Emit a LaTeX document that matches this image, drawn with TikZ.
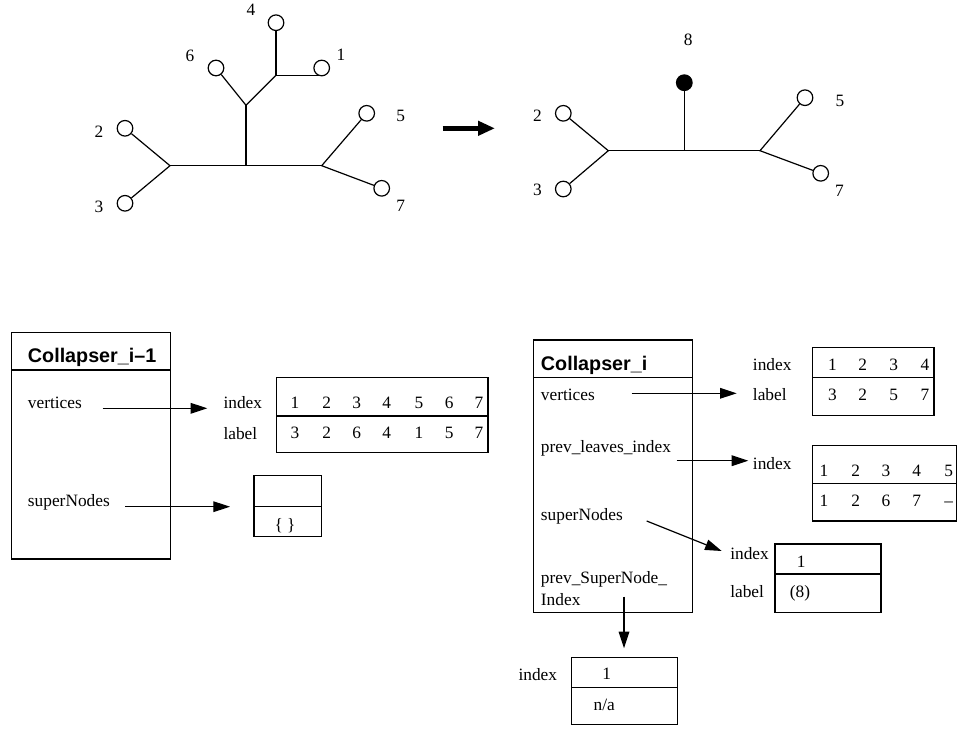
\documentclass[tikz,border=0pt]{standalone}
\usepackage{fontspec}
\setmainfont{Liberation Serif}
\newfontfamily\titlefont{Liberation Sans}
\usetikzlibrary{arrows.meta}
\begin{document}
\begin{tikzpicture}[x=0.75pt,y=-0.75pt,
  every node/.style={inner sep=0pt},
  txt/.style={anchor=base west, font=\fontsize{13}{15}\selectfont},
  num/.style={anchor=base, font=\fontsize{13}{15}\selectfont},
  tlab/.style={anchor=center, font=\fontsize{13}{15}\selectfont},
  ttl/.style={anchor=base west, font=\titlefont\bfseries\fontsize{14.8}{17}\selectfont},
  leaf/.style={circle, draw, minimum size=11.7pt, line width=0.9pt},
  fleaf/.style={circle, draw, fill=black, minimum size=11.7pt, line width=0.9pt},
  edge/.style={line width=0.9pt},
  box/.style={line width=0.9pt},
  arr/.style={line width=0.9pt, -{Triangle[length=12.5pt,width=8pt]}},
  bigarr/.style={line width=3.5pt, -{Triangle[length=12.75pt,width=10.5pt]}}
]
\useasboundingbox (0,0) rectangle (958,729);

% ---------- left tree ----------
\node[leaf] (a4) at (276,22.7) {};
\node[leaf] (a1) at (321.7,68) {};
\node[leaf] (a6) at (216,68) {};
\node[leaf] (a2) at (125,128.3) {};
\node[leaf] (a3) at (125,203.3) {};
\node[leaf] (a5) at (366.7,113.3) {};
\node[leaf] (a7) at (381.7,188.3) {};
\coordinate (aA) at (276,75.3);
\coordinate (aB) at (246,105.3);
\coordinate (aC) at (246,165.7);
\coordinate (aL) at (170,165.7);
\coordinate (aR) at (321.7,165.7);
\draw[edge] (a4) -- (aA) -- (aA -| a1);
\draw[edge] (a6) -- (aB) -- (aA);
\draw[edge] (aB) -- (aC);
\draw[edge] (aL) -- (aR);
\draw[edge] (a2) -- (aL) -- (a3);
\draw[edge] (a5) -- (aR) -- (a7);
\node[tlab] (la4) at (251,10) {4};
\node[tlab] (la1) at (341,54.7) {1};
\node[tlab] (la6) at (190,55.5) {6};
\node[tlab] (la2) at (99,131.3) {2};
\node[tlab] (la3) at (99,206.7) {3};
\node[tlab] (la5) at (400.8,115.8) {5};
\node[tlab] (la7) at (400.8,206.2) {7};

% ---------- big arrow ----------
\coordinate (bigL) at (442.7,128.3);
\coordinate (bigR) at (495,128.3);
\draw[bigarr] (bigL) -- (bigR);

% ---------- right tree ----------
\node[fleaf] (b8) at (684.3,82.7) {};
\node[leaf] (b2) at (563.3,113.3) {};
\node[leaf] (b3) at (563.3,189) {};
\node[leaf] (b5) at (805,97.7) {};
\node[leaf] (b7) at (820.7,173.3) {};
\coordinate (bC) at (684.3,150.7);
\coordinate (bL) at (608.3,150.7);
\coordinate (bR) at (760,150.7);
\draw[edge] (b8) -- (bC);
\draw[edge] (bL) -- (bR);
\draw[edge] (b2) -- (bL) -- (b3);
\draw[edge] (b5) -- (bR) -- (b7);
\node[tlab] (lb8) at (688.3,39.5) {8};
\node[tlab] (lb2) at (537.5,115.8) {2};
\node[tlab] (lb3) at (537.5,190.2) {3};
\node[tlab] (lb5) at (840,101) {5};
\node[tlab] (lb7) at (839.5,190.5) {7};

% ---------- Collapser_i-1 ----------
\draw[box] (11.7,332.7) rectangle (170.7,559);
\draw[box] (11.7,370) -- (170.7,370);
\node[ttl] (t1) at (27.7,362.7) {Collapser\_i–1};
\node[txt] (v1) at (27.7,408.3) {vertices};
\node[txt] (s1) at (27.7,506) {superNodes};
\coordinate (v1a) at (102.7,408.3);
\coordinate (v1b) at (207.3,408.3);
\draw[arr] (v1a) -- (v1b);
\coordinate (s1a) at (125,506.7);
\coordinate (s1b) at (230,506.7);
\draw[arr] (s1a) -- (s1b);
\node[txt] (i1) at (223.3,408.3) {index};
\node[txt] (l1) at (223.3,439) {label};
\draw[box] (276.7,377.3) rectangle (488,452.3);
\draw[box] (276.7,416) -- (488,416);
\foreach \x/\a/\b [count=\k] in {295/1/3,326.7/2/2,356.7/3/6,386.7/4/4,419/5/1,449.3/6/5,479/7/7}{
  \node[num] (r1i\k) at (\x,408.3) {\a};
  \node[num] (r1l\k) at (\x,438.6) {\b};
}
\draw[box] (254,475.7) rectangle (321.7,536.7);
\draw[box] (254,506.7) -- (321.7,506.7);
\node[num] (emp) at (285,530.3) {\{ \}};

% ---------- Collapser_i ----------
\draw[box] (533.3,340) rectangle (692.3,612.3);
\draw[box] (533.3,377.3) -- (692.3,377.3);
\node[ttl] (t2) at (540.7,370) {Collapser\_i};
\node[txt] (v2) at (540.7,400) {vertices};
\node[txt] (p2) at (540.7,452.7) {prev\_leaves\_index};
\node[txt] (s2) at (540.7,520) {superNodes};
\node[txt] (q2) at (540.7,583.3) {prev\_SuperNode\_};
\node[txt] (q2b) at (540.7,605.7) {Index};

% vertices table
\coordinate (v2a) at (631.7,393.3);
\coordinate (v2b) at (736.7,393.3);
\draw[arr] (v2a) -- (v2b);
\node[txt] (i2) at (752.7,370) {index};
\node[txt] (l2) at (752.7,400) {label};
\draw[box] (812.7,347.7) rectangle (934,415.7);
\draw[box] (812.7,377.7) -- (934,377.7);
\foreach \x/\a/\b [count=\k] in {832.5/1/3,862.7/2/2,893.7/3/5,925/4/7}{
  \node[num] (r2i\k) at (\x,370) {\a};
  \node[num] (r2l\k) at (\x,400) {\b};
}

% prev_leaves_index table
\coordinate (p2a) at (676.7,460.7);
\coordinate (p2b) at (748.3,460.7);
\draw[arr] (p2a) -- (p2b);
\node[txt] (i3) at (752.7,469.7) {index};
\draw[box] (812.7,445.7) rectangle (956.7,521);
\draw[box] (812.7,483.3) -- (956.7,483.3);
\foreach \x/\a/\b [count=\k] in {824/1/1,855.7/2/2,886/3/6,916.7/4/7,948.6/5/–}{
  \node[num] (r3i\k) at (\x,476.7) {\a};
  \node[num] (r3l\k) at (\x,506.7) {\b};
}

% superNodes table
\coordinate (s2a) at (646.7,521);
\coordinate (s2b) at (721.7,551);
\draw[arr] (s2a) -- (s2b);
\node[txt] (i4) at (730,559.3) {index};
\node[txt] (l4) at (730,597.3) {label};
\draw[box] (775,544) rectangle (881,612.3);
\draw[box] (775,574) -- (881,574);
\node[num] (r4i) at (801.3,567.3) {1};
\node[num] (r4l) at (800,597.3) {(8)};

% prev_SuperNode_Index table
\coordinate (q2a) at (624,596.7);
\coordinate (q2c) at (624,648.3);
\draw[arr] (q2a) -- (q2c);
\node[txt] (i5) at (518.3,680) {index};
\draw[box] (571.7,657.3) rectangle (677.3,724.3);
\draw[box] (571.7,687.7) -- (677.3,687.7);
\node[num] (r5i) at (606.7,679.5) {1};
\node[num] (r5l) at (604.3,710.5) {n/a};
\end{tikzpicture}
\end{document}
